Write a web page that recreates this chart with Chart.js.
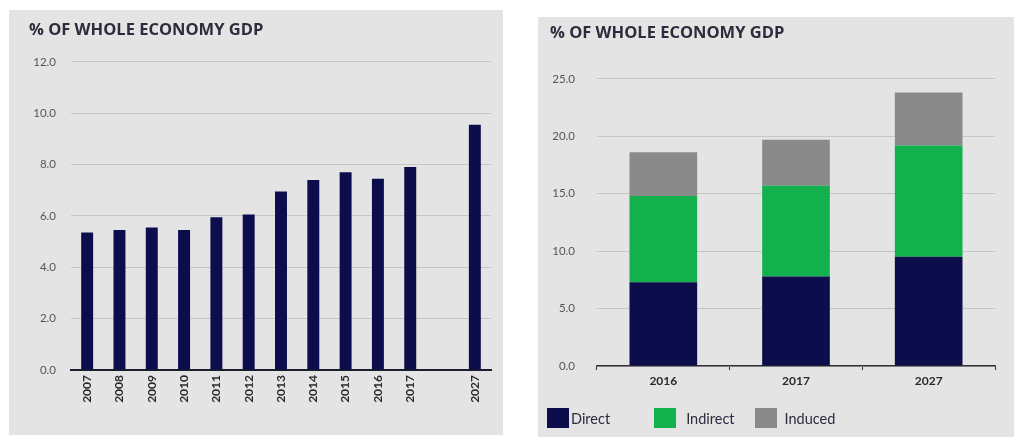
<!DOCTYPE html>
<html>
<head>
<meta charset="utf-8">
<script src="https://cdn.jsdelivr.net/npm/chart.js@4.4.1/dist/chart.umd.min.js"></script>
<style>
    body { margin: 0; background: #ffffff; width: 1014px; height: 437px; position: relative; overflow: hidden; font-family: 'Open Sans', sans-serif; }
    .panel { position: absolute; background: #e4e4e4; }
    #panelYears { left: 9px; top: 10px; width: 494px; height: 425px; }
    #panelImpact { left: 538px; top: 17px; width: 476px; height: 420px; }
    .panel canvas { position: absolute; left: 0; top: 0; }
    #impactLegend { position: absolute; left: 9px; top: 391px; display: flex; align-items: center; font-family: 'Lato', sans-serif; font-size: 14.5px; color: #2a2a40; }
    .leg-item { display: flex; align-items: center; }
    .leg-box { width: 22px; height: 20px; display: inline-block; }
</style>
</head>
<body>

<div class="panel" id="panelYears">
    <canvas id="chartYears" width="494" height="425"></canvas>
</div>
<div class="panel" id="panelImpact">
    <canvas id="chartImpact" width="476" height="420"></canvas>
    <div id="impactLegend"></div>
</div>

<script>
// ===== % OF WHOLE ECONOMY GDP =====

// Serie anual (hueco vacío entre 2017 y 2027)
const years = ['2007', '2008', '2009', '2010', '2011', '2012', '2013', '2014', '2015', '2016', '2017', '', '2027'];
const yearValues = [5.35, 5.45, 5.55, 5.45, 5.95, 6.05, 6.95, 7.4, 7.7, 7.45, 7.9, null, 9.55];
const yearTicks = [0, 2, 4, 6, 8, 10, 12];

// Impacto desglosado
const impactYears = ['2016', '2017', '2027'];
const directValues = [7.3, 7.8, 9.5];
const indirectValues = [7.5, 7.9, 9.7];
const inducedValues = [3.8, 4.0, 4.6];
const impactTicks = [0, 5, 10, 15, 20, 25];

const navy = '#0b0e4a';
const green = '#13b04e';
const grey = '#8a8a8a';
const gridColor = '#c6c6c6';
const titleText = '% OF WHOLE ECONOMY GDP';

const titleFont = { family: 'Open Sans', size: 16.5, weight: '700' };
const tickFont = { family: 'Lato', size: 11.5 };

// Gráfico anual
const ctxYears = document.getElementById('chartYears');
new Chart(ctxYears, {
    type: 'bar',
    data: {
        labels: years,
        datasets: [{
            data: yearValues,
            backgroundColor: navy,
            categoryPercentage: 1,
            barPercentage: 0.37
        }]
    },
    options: {
        responsive: false,
        animation: false,
        layout: { padding: { left: 20, right: 12, top: 0, bottom: 14 } },
        plugins: {
            legend: { display: false },
            tooltip: { enabled: false },
            title: {
                display: true,
                text: titleText,
                align: 'start',
                color: '#2c2c3c',
                font: titleFont,
                padding: { top: 10, bottom: 22 }
            }
        },
        scales: {
            x: {
                grid: { display: true, drawOnChartArea: false, drawTicks: false },
                border: { display: true, color: '#1c1c2c', width: 2 },
                ticks: {
                    color: '#2a2a2a',
                    font: { family: 'Lato', size: 12, weight: '700' },
                    maxRotation: 90,
                    minRotation: 90,
                    padding: 5,
                    autoSkip: false
                },
                afterFit: function(scale) { scale.height = 51; }
            },
            y: {
                min: 0,
                max: 12,
                afterBuildTicks: function(scale) {
                    scale.ticks = yearTicks.map(v => ({ value: v }));
                },
                grid: { color: gridColor, lineWidth: 1, drawTicks: false },
                border: { display: false },
                ticks: {
                    color: '#555555',
                    font: tickFont,
                    padding: 15,
                    callback: v => v.toFixed(1)
                },
                afterFit: function(scale) { scale.width = 42; }
            }
        }
    }
});

// Gráfico de impacto apilado
const ctxImpact = document.getElementById('chartImpact');
const chartImpact = new Chart(ctxImpact, {
    type: 'bar',
    data: {
        labels: impactYears,
        datasets: [
            { label: 'Direct', data: directValues, backgroundColor: navy },
            { label: 'Indirect', data: indirectValues, backgroundColor: green },
            { label: 'Induced', data: inducedValues, backgroundColor: grey }
        ]
    },
    options: {
        responsive: false,
        animation: false,
        datasets: { bar: { categoryPercentage: 1, barPercentage: 0.51 } },
        layout: { padding: { left: 12, right: 19, top: 0, bottom: 41 } },
        plugins: {
            legend: { display: false },
            tooltip: { enabled: false },
            title: {
                display: true,
                text: titleText,
                align: 'start',
                color: '#2c2c3c',
                font: titleFont,
                padding: { top: 6, bottom: 36 }
            }
        },
        scales: {
            x: {
                stacked: true,
                grid: { display: true, drawOnChartArea: false, drawTicks: true, tickLength: 4, color: '#333333', offset: true },
                border: { display: true, color: '#333333', width: 1.5 },
                ticks: {
                    color: '#2a2a2a',
                    font: { family: 'Lato', size: 12, weight: '700' },
                    padding: 4,
                    maxRotation: 0
                },
                afterFit: function(scale) { scale.height = 30; }
            },
            y: {
                stacked: true,
                min: 0,
                max: 25,
                afterBuildTicks: function(scale) {
                    scale.ticks = impactTicks.map(v => ({ value: v }));
                },
                grid: { color: gridColor, lineWidth: 1, drawTicks: false },
                border: { display: false },
                ticks: {
                    color: '#555555',
                    font: tickFont,
                    padding: 22,
                    callback: v => v.toFixed(1)
                },
                afterFit: function(scale) { scale.width = 47; }
            }
        }
    }
});

// Leyenda a partir de los datasets
const legendBox = document.getElementById('impactLegend');
const legendGaps = [2, 10, 8];
const legendSpacing = [44, 20, 0];
chartImpact.data.datasets.forEach(function(ds, i) {
    const item = document.createElement('span');
    item.className = 'leg-item';
    item.style.marginRight = legendSpacing[i] + 'px';
    const box = document.createElement('span');
    box.className = 'leg-box';
    box.style.background = ds.backgroundColor;
    box.style.marginRight = legendGaps[i] + 'px';
    const txt = document.createElement('span');
    txt.textContent = ds.label;
    item.appendChild(box);
    item.appendChild(txt);
    legendBox.appendChild(item);
});
</script>
</body>
</html>
